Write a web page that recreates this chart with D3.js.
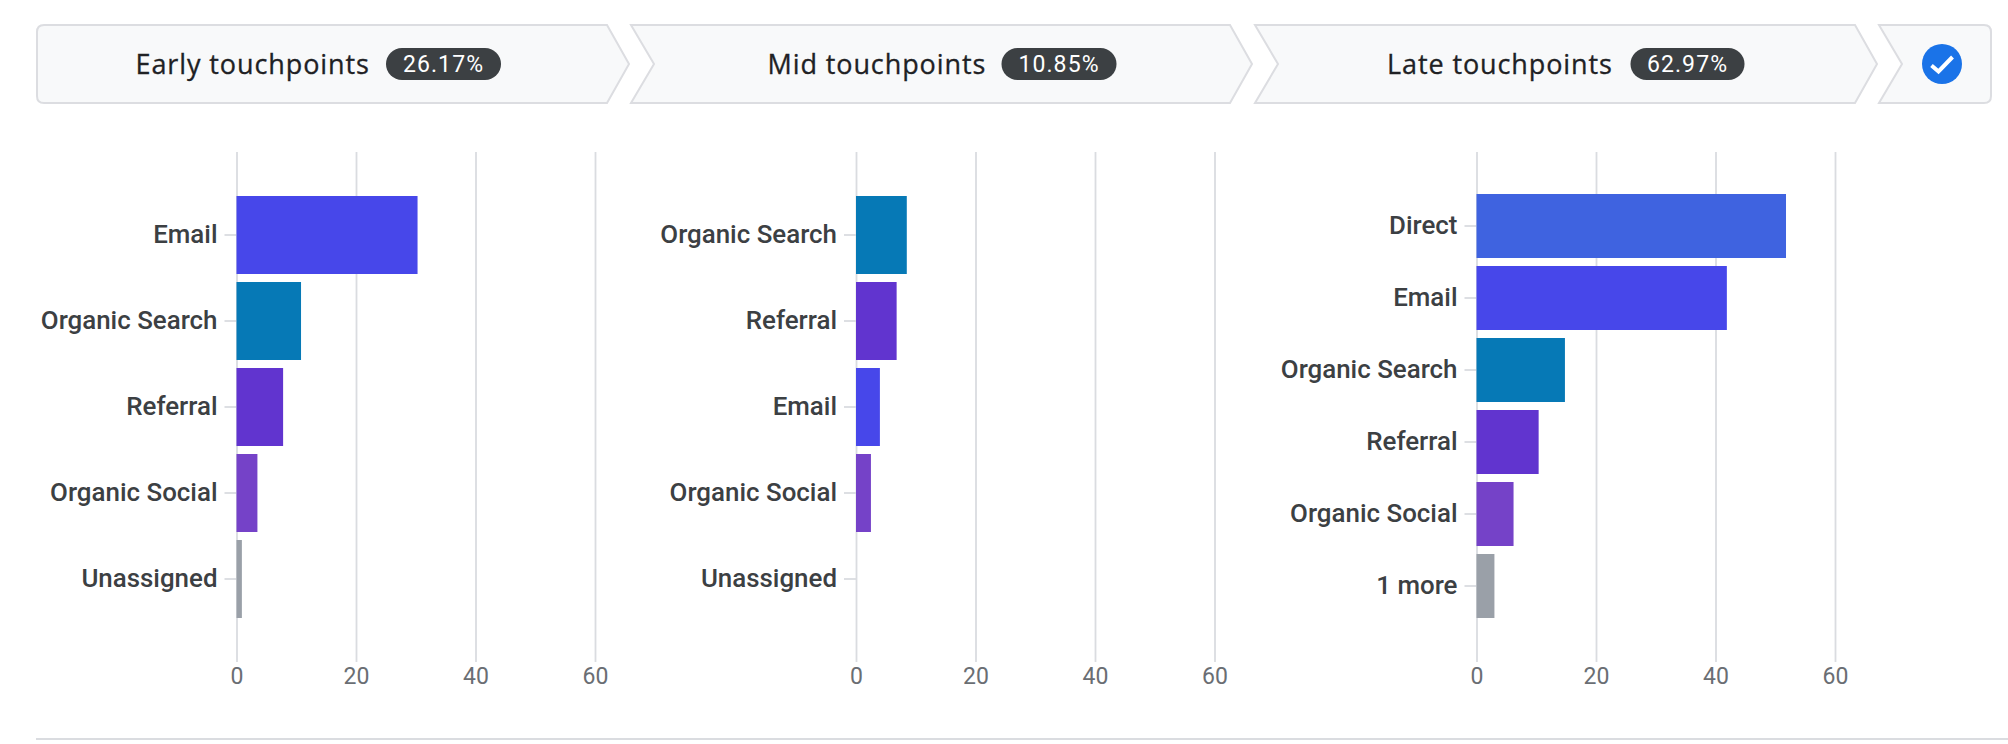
<!DOCTYPE html>
<html>
<head>
<meta charset="utf-8">
<script src="https://cdn.jsdelivr.net/npm/d3@7"></script>
<style>
  html, body { margin: 0; padding: 0; background: #fff; }
  svg { display: block; }
  .y-axis text { font: 500 25.9px Roboto, sans-serif; fill: #3c4043; }
  .x-axis text { font: 400 23px Roboto, sans-serif; fill: #6a6e73; }
</style>
</head>
<body>
<div id="chart"></div>
<script>
const stageNames = ["Early touchpoints", "Mid touchpoints", "Late touchpoints"];
const stageShares = ["26.17%", "10.85%", "62.97%"];

const earlyChannels = ["Email", "Organic Search", "Referral", "Organic Social", "Unassigned"];
const earlyValues = [30.3, 10.8, 7.8, 3.5, 0.9];
const midChannels = ["Organic Search", "Referral", "Email", "Organic Social", "Unassigned"];
const midValues = [8.5, 6.8, 4.0, 2.5, 0];
const lateChannels = ["Direct", "Email", "Organic Search", "Referral", "Organic Social", "1 more"];
const lateValues = [51.8, 41.9, 14.8, 10.4, 6.2, 3.0];
const xTicks = [0, 20, 40, 60];

const channelColors = {
    "Direct": "#3f63e0",
    "Email": "#4747ea",
    "Organic Search": "#0679b6",
    "Referral": "#6134cf",
    "Organic Social": "#7542c8",
    "Unassigned": "#9aa0a8",
    "1 more": "#9aa0a8"
};

const svg = d3.select("#chart").append("svg").attr("width", 2008).attr("height", 744);

// chevrons along the top
const top_ = 25, bottom = 103, mid = 64;

function chevron(left, notch, shoulder, tip) {
    return `M${left},${top_}L${shoulder},${top_}L${tip},${mid}L${shoulder},${bottom}L${left},${bottom}L${notch},${mid}Z`;
}

const header = svg.append("g");
const shapeStyle = s => s.attr("fill", "#f8f9fa").attr("stroke", "#dcdde1").attr("stroke-width", 2);

header.append("path").call(shapeStyle)
    .attr("d", `M44,${top_}L607,${top_}L629,${mid}L607,${bottom}L44,${bottom}Q37,${bottom} 37,${bottom - 7}L37,${top_ + 7}Q37,${top_} 44,${top_}Z`);
header.append("path").call(shapeStyle).attr("d", chevron(631, 654, 1230, 1252));
header.append("path").call(shapeStyle).attr("d", chevron(1255, 1278, 1855, 1877));
header.append("path").call(shapeStyle)
    .attr("d", `M1879,${top_}L1984,${top_}Q1991,${top_} 1991,${top_ + 7}L1991,${bottom - 7}Q1991,${bottom} 1984,${bottom}L1879,${bottom}L1902,${mid}Z`);

const stageLayout = [
    {textX: 135.5, badgeX: 386, badgeW: 115},
    {textX: 767.5, badgeX: 1001.5, badgeW: 115},
    {textX: 1387, badgeX: 1630.5, badgeW: 114}
];

stageNames.forEach((name, i) => {
    const l = stageLayout[i];
    header.append("text")
        .attr("x", l.textX).attr("y", mid + 10)
        .attr("font-family", "'Open Sans', sans-serif")
        .attr("font-size", 27).attr("font-weight", 500)
        .attr("letter-spacing", 0.9)
        .attr("fill", "#202124")
        .attr("stroke", "#202124").attr("stroke-width", 0.3)
        .text(name);
    header.append("rect")
        .attr("x", l.badgeX).attr("y", 48)
        .attr("width", l.badgeW).attr("height", 32).attr("rx", 16)
        .attr("fill", "#3c4043");
    header.append("text")
        .attr("x", l.badgeX + l.badgeW / 2).attr("y", mid + 8)
        .attr("text-anchor", "middle")
        .attr("font-family", "Roboto, sans-serif")
        .attr("font-size", 23).attr("letter-spacing", 1.1)
        .attr("fill", "#fff")
        .text(stageShares[i]);
});

header.append("circle").attr("cx", 1942).attr("cy", 64).attr("r", 20).attr("fill", "#1a73e8");
header.append("path")
    .attr("d", "M1931.5,65.5L1938.5,71.5L1952.5,57")
    .attr("fill", "none").attr("stroke", "#fff").attr("stroke-width", 4);

function drawChart(channels, values, x0, y0) {
    const x = d3.scaleLinear().domain([0, 60]).range([x0, x0 + 358.5]);
    const step = (622 - y0) / channels.length;
    const y = d3.scaleBand().domain(channels).range([y0, 622])
        .paddingInner(8 / step).paddingOuter(4 / step);

    const g = svg.append("g");

    const xAxis = g.append("g")
        .attr("class", "x-axis")
        .attr("transform", "translate(0,662)")
        .call(d3.axisBottom(x).tickValues(xTicks).tickSize(-510).tickPadding(6));
    xAxis.select(".domain").remove();
    xAxis.selectAll("line").attr("stroke", "#dadce0").attr("stroke-width", 1.8);

    const yAxis = g.append("g")
        .attr("class", "y-axis")
        .attr("transform", `translate(${x0},0)`)
        .call(d3.axisLeft(y).tickSize(12).tickPadding(7));
    yAxis.select(".domain").remove();
    yAxis.selectAll("line").attr("stroke", "#dadce0").attr("stroke-width", 1.8);

    g.selectAll("rect")
        .data(channels)
        .enter()
        .append("rect")
        .attr("x", x(0))
        .attr("y", d => y(d))
        .attr("width", (d, i) => x(values[i]) - x(0))
        .attr("height", y.bandwidth())
        .attr("fill", d => channelColors[d]);
}

drawChart(earlyChannels, earlyValues, 236.5, 192);
drawChart(midChannels, midValues, 856, 192);
drawChart(lateChannels, lateValues, 1476.5, 190);

svg.append("line")
    .attr("x1", 36).attr("x2", 2008).attr("y1", 739).attr("y2", 739)
    .attr("stroke", "#dadce0").attr("stroke-width", 2);
</script>
</body>
</html>
